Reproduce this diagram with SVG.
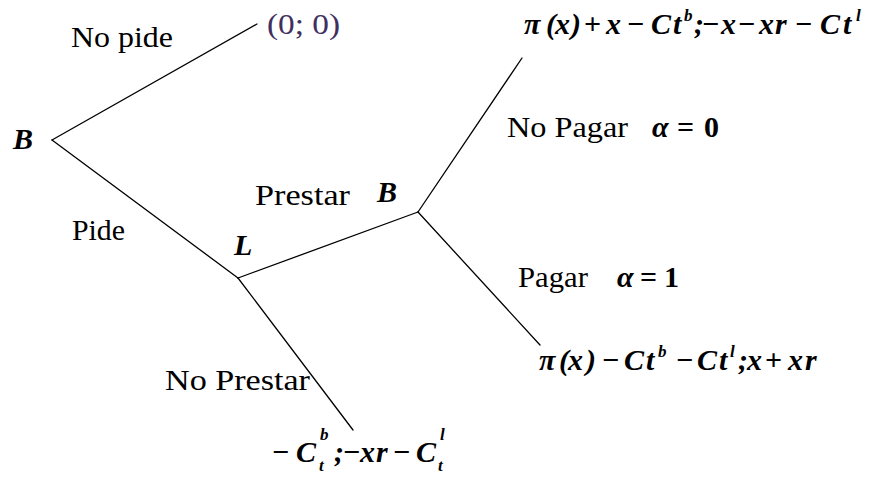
<svg xmlns="http://www.w3.org/2000/svg" width="889" height="477" viewBox="0 0 889 477">
<style>
.lbl{font-family:'Liberation Serif','Times New Roman',serif;font-size:30px;fill:#000}
.pay{font-family:'Liberation Serif','Times New Roman',serif;font-size:30px;fill:#403060}
.m{font-family:'Liberation Serif','Times New Roman',serif;font-size:30px;font-weight:bold;font-style:italic;fill:#000}
.s{font-size:17px}
.e{stroke:#000;stroke-width:1.3;fill:none;stroke-linecap:round}
</style>
<rect width="889" height="477" fill="#fff"/>
<g id="connectors">
<line class="e" x1="52" y1="140" x2="257" y2="24"/>
<line class="e" x1="52" y1="140" x2="238" y2="278"/>
<line class="e" x1="238" y1="278" x2="418" y2="212"/>
<line class="e" x1="418" y1="212" x2="522" y2="58"/>
<line class="e" x1="418" y1="212" x2="540" y2="345"/>
<line class="e" x1="238" y1="278" x2="353" y2="430"/>
</g>
<g id="node-B1"><text class="m" x="13" y="149" font-size="27">B</text></g>
<g id="node-L"><text class="m" x="234" y="255" font-size="27">L</text></g>
<g id="node-B2"><text class="m" x="377" y="202" font-size="27">B</text></g>
<g id="label-nopide"><text class="lbl" x="71" y="47" textLength="102" lengthAdjust="spacingAndGlyphs">No pide</text></g>
<g id="payoff-nopide"><text class="pay" x="267" y="34" textLength="73" lengthAdjust="spacingAndGlyphs">(0; 0)</text></g>
<g id="label-pide"><text class="lbl" x="72" y="240" textLength="53" lengthAdjust="spacingAndGlyphs">Pide</text></g>
<g id="label-prestar"><text class="lbl" x="255" y="205" textLength="95" lengthAdjust="spacingAndGlyphs">Prestar</text></g>
<g id="label-noprestar"><text class="lbl" x="165" y="390" textLength="145" lengthAdjust="spacingAndGlyphs">No Prestar</text></g>
<g id="label-nopagar">
<text class="lbl" x="507" y="137" textLength="121" lengthAdjust="spacingAndGlyphs">No Pagar</text>
<text class="m" x="652" y="137"><tspan>α</tspan><tspan x="677" font-style="normal">=</tspan><tspan x="704" font-style="normal">0</tspan></text>
</g>
<g id="label-pagar">
<text class="lbl" x="518" y="287" textLength="70" lengthAdjust="spacingAndGlyphs">Pagar</text>
<text class="m" x="617" y="287"><tspan>α</tspan><tspan x="640" font-style="normal">=</tspan><tspan x="664" font-style="normal">1</tspan></text>
</g>
<g id="payoff-nopagar">
<text class="m" y="34"><tspan x="524">π</tspan><tspan x="546">(</tspan><tspan x="555">x</tspan><tspan x="571">)</tspan><tspan x="584" font-style="normal">+</tspan><tspan x="606">x</tspan><tspan x="627" font-style="normal">−</tspan><tspan x="651">C</tspan><tspan x="673">t</tspan><tspan class="s" x="684" dy="-13">b</tspan><tspan x="694" dy="13">;</tspan><tspan x="702" font-style="normal">−</tspan><tspan x="721">x</tspan><tspan x="738" font-style="normal">−</tspan><tspan x="759">x</tspan><tspan x="775">r</tspan><tspan x="795" font-style="normal">−</tspan><tspan x="820">C</tspan><tspan x="843">t</tspan><tspan class="s" x="856" dy="-13">l</tspan></text>
</g>
<g id="payoff-pagar">
<text class="m" y="370"><tspan x="539">π</tspan><tspan x="559">(</tspan><tspan x="568">x</tspan><tspan x="586">)</tspan><tspan x="602" font-style="normal">−</tspan><tspan x="624">C</tspan><tspan x="646">t</tspan><tspan class="s" x="658" dy="-13">b</tspan><tspan x="676" dy="13" font-style="normal">−</tspan><tspan x="697">C</tspan><tspan x="719">t</tspan><tspan class="s" x="730" dy="-13">l</tspan><tspan x="738" dy="13">;</tspan><tspan x="747">x</tspan><tspan x="765" font-style="normal">+</tspan><tspan x="788">x</tspan><tspan x="805">r</tspan></text>
</g>
<g id="payoff-noprestar">
<text class="m" y="462"><tspan x="272" font-style="normal">−</tspan><tspan x="296">C</tspan><tspan class="s" x="320" dy="-22">b</tspan><tspan class="s" x="319" dy="31">t</tspan><tspan x="334" dy="-9">;</tspan><tspan x="343" font-style="normal">−</tspan><tspan x="360">x</tspan><tspan x="376">r</tspan><tspan x="393" font-style="normal">−</tspan><tspan x="416">C</tspan><tspan class="s" x="440" dy="-22">l</tspan><tspan class="s" x="438" dy="31">t</tspan></text>
</g>
</svg>
